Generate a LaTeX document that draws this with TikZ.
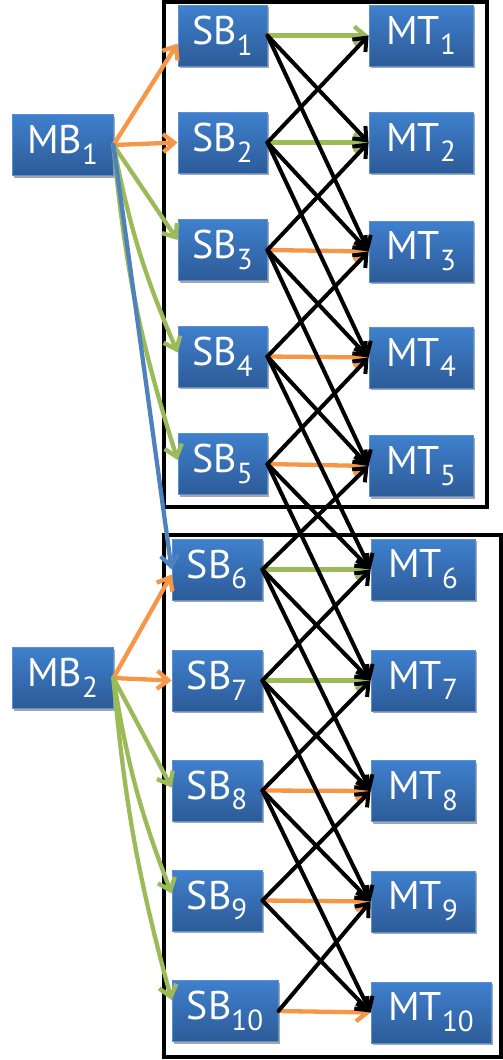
\documentclass[tikz,border=0pt]{standalone}
\usepackage{fontspec}
\setmainfont{PT Sans}
\usetikzlibrary{arrows.meta,shadows}
\definecolor{boxtop}{HTML}{3F80CD}
\definecolor{boxbot}{HTML}{2D5B98}
\definecolor{boxline}{HTML}{5A90D4}
\definecolor{cOr}{HTML}{F79646}
\definecolor{cGr}{HTML}{9BBB59}
\definecolor{cBl}{HTML}{4F81BD}
\newcommand\lbl[2]{#1\raisebox{-0.27em}{\fontsize{29}{29}\selectfont#2}}
\begin{document}
\begin{tikzpicture}[x=1pt,y=-1pt,
  blk/.style={rectangle, top color=boxtop, bottom color=boxbot, draw=boxline,
    line width=0.8pt, text=white, font=\fontsize{40}{40}\selectfont,
    minimum height=61pt, inner sep=0pt,
    drop shadow={shadow xshift=1.5pt,shadow yshift=-2pt,opacity=0.35,fill=black}},
  mbbox/.style={blk, minimum width=101pt},
  sbbox/.style={blk, minimum width=89pt},
  mtbox/.style={blk, minimum width=104pt},
  tipb/.style={-{Straight Barb[length=11pt,width=18pt]}},
  bk/.style={tipb, line width=4pt, black, line cap=round},
  cl/.style={tipb, line width=4.3pt, draw=#1, line cap=round},
  frame/.style={line width=4pt, black}
]
\useasboundingbox (0,0) rectangle (503,1060);
% frames
\draw[frame] (163.5,2) rectangle (487,507);
\draw[frame] (163.5,534.5) rectangle (500.5,1057);

% nodes
\node[mbbox] (mb1) at (62.5,145) {\lbl{MB}{1}};
\node[mbbox] (mb2) at (62.5,678) {\lbl{MB}{2}};

\node[sbbox] (sb1) at (222.5,35.5) {\lbl{SB}{1}};
\node[sbbox] (sb2) at (222.5,142.5) {\lbl{SB}{2}};
\node[sbbox] (sb3) at (222.5,250) {\lbl{SB}{3}};
\node[sbbox] (sb4) at (222.5,356.5) {\lbl{SB}{4}};
\node[sbbox] (sb5) at (222.5,464) {\lbl{SB}{5}};
\node[sbbox, minimum width=90pt] (sb6) at (217,569.5) {\lbl{SB}{6}};
\node[sbbox, minimum width=90pt] (sb7) at (217,680.5) {\lbl{SB}{7}};
\node[sbbox, minimum width=90pt] (sb8) at (217,790.5) {\lbl{SB}{8}};
\node[sbbox, minimum width=90pt] (sb9) at (217,900.5) {\lbl{SB}{9}};
\node[sbbox, minimum width=106pt] (sb10) at (225,1011) {\lbl{SB}{10}};

\node[mtbox] (mt1) at (421,35.5) {\lbl{MT}{1}};
\node[mtbox] (mt2) at (421,142.5) {\lbl{MT}{2}};
\node[mtbox] (mt3) at (421,251.5) {\lbl{MT}{3}};
\node[mtbox] (mt4) at (421,357.5) {\lbl{MT}{4}};
\node[mtbox] (mt5) at (421,466) {\lbl{MT}{5}};
\node[mtbox] (mt6) at (423,569.5) {\lbl{MT}{6}};
\node[mtbox] (mt7) at (423,680.5) {\lbl{MT}{7}};
\node[mtbox] (mt8) at (423,791) {\lbl{MT}{8}};
\node[mtbox] (mt9) at (423,901.5) {\lbl{MT}{9}};
\node[mtbox, minimum width=120pt] (mt10) at (431,1012.5) {\lbl{MT}{10}};

% MB1 connectors
\draw[cl=cOr] (mb1.east) -- ([yshift=-8pt]sb1.west);
\draw[cl=cOr] (mb1.east) -- (sb2.west);
\draw[cl=cGr] (mb1.east) -- ([yshift=10pt]sb3.west);
\draw[cl=cGr] (mb1.east) to[bend right=6] ([yshift=4pt]sb4.west);
\draw[cl=cGr] (mb1.east) to[bend right=6] ([yshift=4pt]sb5.west);
\draw[cl=cBl] (mb1.east) -- (sb6.west);
% MB2 connectors
\draw[cl=cOr] (mb2.east) -- ([yshift=-5pt]sb6.west);
\draw[cl=cOr] (mb2.east) -- (sb7.west);
\draw[cl=cGr] (mb2.east) -- ([yshift=3pt]sb8.west);
\draw[cl=cGr] (mb2.east) to[bend right=6] ([yshift=7pt]sb9.west);
\draw[cl=cGr] (mb2.east) to[bend right=5] ([yshift=11pt]sb10.west);

% SB -> MT same index
\foreach \i/\c in {1/cGr,2/cGr,3/cOr,4/cOr,5/cOr,6/cGr,7/cGr,8/cOr,9/cOr,10/cOr}
  \draw[cl=\c] (sb\i.east) -- (mt\i.west);

% SB -> MT black
\foreach \i in {1,...,10}{
  \foreach \d in {-1,1,2}{
    \pgfmathtruncatemacro\j{\i+\d}
    \ifnum\j>0 \ifnum\j<11
      \draw[bk] (sb\i.east) -- (mt\j.west);
    \fi\fi
  }
}
\end{tikzpicture}
\end{document}
